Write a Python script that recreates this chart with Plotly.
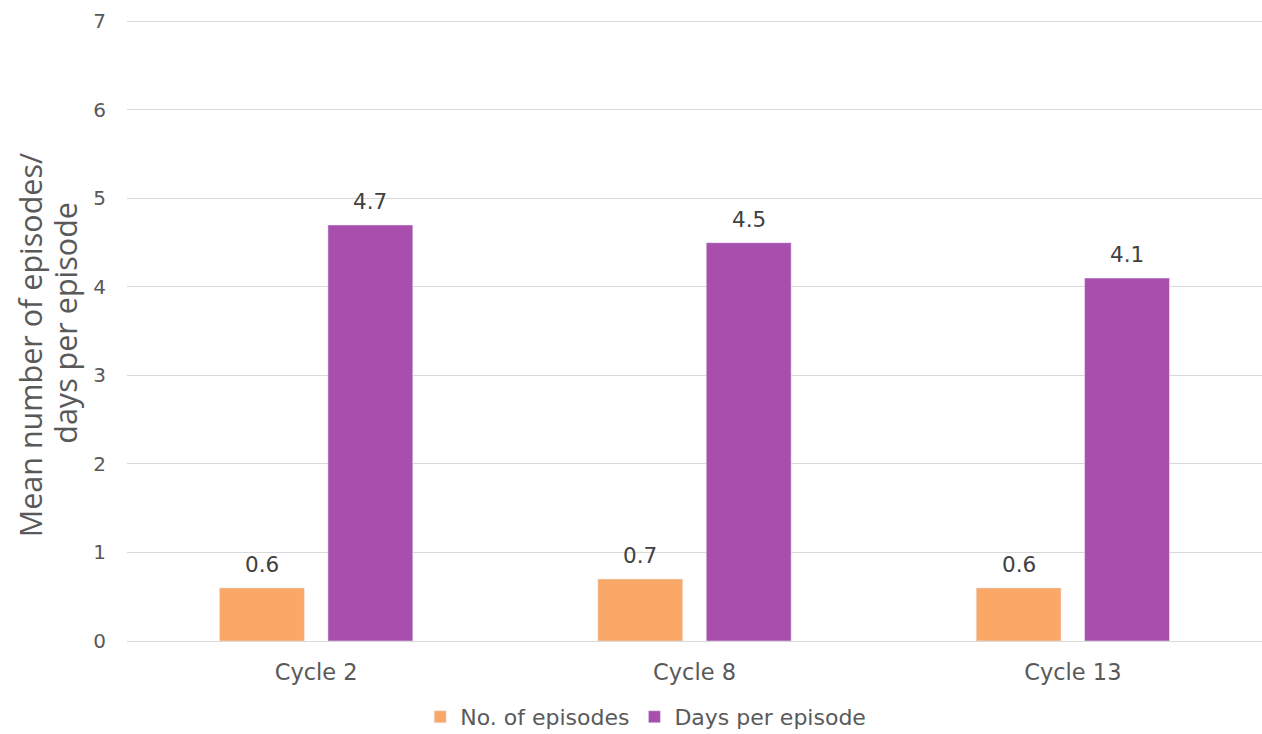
import plotly.graph_objects as go

categories = ["Cycle 2", "Cycle 8", "Cycle 13"]
episodes = [0.6, 0.7, 0.6]
days_per_episode = [4.7, 4.5, 4.1]

text_color = "#595959"
label_color = "#404040"
tick_font = "DejaVu Sans, Verdana, sans-serif"
title_font = "Open Sans, sans-serif"

series = [
    ("No. of episodes", episodes, "#F9A868"),
    ("Days per episode", days_per_episode, "#A84FAE"),
]

fig = go.Figure()
for name, values, color in series:
    fig.add_trace(go.Bar(name=name, x=categories, y=values, marker=dict(color=color)))

# value labels above each bar, offset to the bar's slot inside its group
slot_px = 108.5
for i, (name, values, color) in enumerate(series):
    shift = (i - 0.5) * slot_px
    for cat, v in zip(categories, values):
        fig.add_annotation(
            x=cat, y=v, text=f"{v:.1f}",
            showarrow=False, xanchor="center", yanchor="bottom",
            xshift=shift, yshift=9,
            font=dict(family=tick_font, size=21.5, color=label_color),
        )

# two-line rotated y-axis title
title_lines = [("Mean number of episodes/", -97, 0.474), ("days per episode", -62, 0.51)]
for text, xs, yp in title_lines:
    fig.add_annotation(
        x=0, xref="paper", y=yp, yref="paper",
        text=text, textangle=-90, showarrow=False,
        xanchor="center", yanchor="middle", xshift=xs,
        font=dict(family=title_font, size=30.5, color=text_color),
    )

fig.update_layout(
    width=1262, height=734,
    margin=dict(l=127, r=0, t=17, b=93),
    paper_bgcolor="white",
    plot_bgcolor="white",
    barmode="group",
    bargap=0.427,
    bargroupgap=0.217,
    font=dict(family=tick_font, color=text_color, size=20),
    showlegend=True,
    legend=dict(
        orientation="h",
        x=0.457, xanchor="center",
        yref="container", y=0.0232, yanchor="middle",
        font=dict(family=tick_font, size=22, color=text_color),
        itemwidth=30,
    ),
    xaxis=dict(
        automargin=False,
        showgrid=False,
        showline=False,
        ticks="",
        ticklabelstandoff=15,
        tickfont=dict(family=tick_font, size=22.5, color=text_color),
    ),
    yaxis=dict(
        automargin=False,
        range=[0, 7.05],
        tickvals=[0, 1, 2, 3, 4, 5, 6, 7],
        showgrid=True,
        gridcolor="#D9D9D9",
        gridwidth=1,
        zeroline=True,
        zerolinecolor="#D9D9D9",
        zerolinewidth=1,
        ticks="",
        ticklabelstandoff=20,
        tickfont=dict(family=tick_font, size=20, color=text_color),
    ),
)

fig.write_html("out.html")
